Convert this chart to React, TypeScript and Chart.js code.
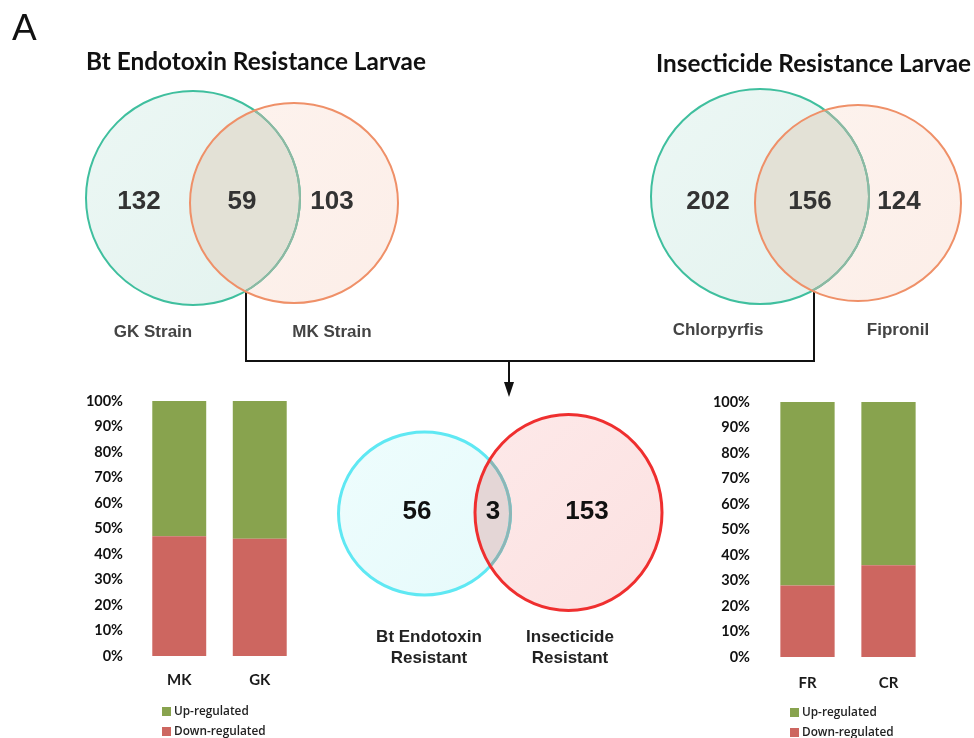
import React, { useEffect, useRef } from "react";
import { Chart, registerables } from "chart.js";

Chart.register(...registerables);

// ---------- DATA ----------
const btCategories = ["MK", "GK"];
const btDownPct = [47, 46];
const btUpPct = [53, 54];

const insCategories = ["FR", "CR"];
const insDownPct = [28, 36];
const insUpPct = [72, 64];

const yTickValues = [0, 10, 20, 30, 40, 50, 60, 70, 80, 90, 100];
const seriesNames = ["Up-regulated", "Down-regulated"];

const btVennTitle = "Bt Endotoxin Resistance Larvae";
const btVennSets = ["GK Strain", "MK Strain"];
const btVennCounts = [132, 59, 103];

const insVennTitle = "Insecticide Resistance Larvae";
const insVennSets = ["Chlorpyrfis", "Fipronil"];
const insVennCounts = [202, 156, 124];

const combVennSets = [["Bt Endotoxin", "Resistant"], ["Insecticide", "Resistant"]];
const combVennCounts = [56, 3, 153];

const panelLetter = "A";

// ---------- STYLE ----------
const GREEN = "#88a34e";
const RED = "#cd6660";
const W = 974;
const H = 738;

type Ell = { cx: number; cy: number; rx: number; ry: number };

const vennLayouts = [
  {
    a: { cx: 193, cy: 198, rx: 107, ry: 107 },
    b: { cx: 294, cy: 203, rx: 104, ry: 100 },
    lw: 2,
    aFill: ["#ecf7f4", "#e3f3ef"], bFill: ["#fdf3ee", "#fceee8"], mid: "#e3e1d6",
    aStroke: "#3fbf9e", aInner: "#8fb8a2", bStroke: "#ef9068",
    numColor: "#333333",
    numPos: [[139, 202], [242, 202], [332, 202]],
    setPos: [[[153, 332]], [[332, 332]]],
    setColor: "#444444",
  },
  {
    a: { cx: 760, cy: 196.5, rx: 109, ry: 107.5 },
    b: { cx: 858, cy: 203, rx: 103, ry: 98 },
    lw: 2,
    aFill: ["#ecf7f4", "#e3f3ef"], bFill: ["#fdf3ee", "#fceee8"], mid: "#e3e1d6",
    aStroke: "#3fbf9e", aInner: "#8fb8a2", bStroke: "#ef9068",
    numColor: "#333333",
    numPos: [[708, 202], [810, 202], [899, 202]],
    setPos: [[[718, 330]], [[898, 330]]],
    setColor: "#444444",
  },
  {
    a: { cx: 424.5, cy: 513.5, rx: 86, ry: 81.5 },
    b: { cx: 568.5, cy: 512.5, rx: 93.5, ry: 98 },
    lw: 3,
    aFill: ["#eefdfd", "#e6fafb"], bFill: ["#fde9e9", "#fce1e1"], mid: "#e4d6d6",
    aStroke: "#5fe8f3", aInner: "#8db6b6", bStroke: "#ef2f2f",
    numColor: "#111111",
    numPos: [[417, 512], [493, 512], [587, 512]],
    setPos: [[[429, 637], [429, 658]], [[570, 637], [570, 658]]],
    setColor: "#222222",
  },
];

const vennData = [
  { counts: btVennCounts, sets: btVennSets.map((s) => [s]) },
  { counts: insVennCounts, sets: insVennSets.map((s) => [s]) },
  { counts: combVennCounts, sets: combVennSets },
];

const titles = [
  { text: btVennTitle, cx: 256, cy: 62, w: 340 },
  { text: insVennTitle, cx: 813.5, cy: 64, w: 315 },
];

const vennPlugin = {
  id: "vennPlugin",
  afterDraw(chart: any) {
    const ctx: CanvasRenderingContext2D = chart.ctx;
    const xs = chart.scales.x;
    const ys = chart.scales.y;
    const sx = (v: number) => xs.getPixelForValue(v);
    const sy = (v: number) => ys.getPixelForValue(v);
    const path = (e: Ell) => {
      ctx.beginPath();
      const cx = sx(e.cx), cy = sy(e.cy);
      ctx.ellipse(cx, cy, Math.abs(sx(e.cx + e.rx) - cx), Math.abs(sy(e.cy + e.ry) - cy), 0, 0, Math.PI * 2);
    };
    const grad = (e: Ell, cols: string[]) => {
      const g = ctx.createLinearGradient(sx(e.cx - e.rx), sy(e.cy - e.ry), sx(e.cx + e.rx), sy(e.cy + e.ry));
      g.addColorStop(0, cols[0]);
      g.addColorStop(1, cols[1]);
      return g;
    };
    ctx.save();
    // panel letter
    ctx.fillStyle = "#111";
    ctx.font = "37px 'Liberation Sans', Arial, sans-serif";
    ctx.textAlign = "left";
    ctx.textBaseline = "alphabetic";
    ctx.fillText(panelLetter, sx(12), sy(40));

    // titles
    titles.forEach((t) => {
      ctx.font = "bold 22px Lato, sans-serif";
      const m = ctx.measureText(t.text).width;
      const size = (22 * t.w) / m;
      ctx.font = `bold ${size.toFixed(2)}px Lato, sans-serif`;
      ctx.textAlign = "center";
      ctx.textBaseline = "middle";
      ctx.fillStyle = "#111";
      ctx.fillText(t.text, sx(t.cx), sy(t.cy));
    });

    // connectors
    ctx.strokeStyle = "#111";
    ctx.lineWidth = 2;
    ctx.beginPath();
    ctx.moveTo(sx(246), sy(291));
    ctx.lineTo(sx(246), sy(361));
    ctx.lineTo(sx(814), sy(361));
    ctx.lineTo(sx(814), sy(291));
    ctx.moveTo(sx(509), sy(361));
    ctx.lineTo(sx(509), sy(386));
    ctx.stroke();
    ctx.fillStyle = "#111";
    ctx.beginPath();
    ctx.moveTo(sx(504), sy(382));
    ctx.lineTo(sx(514), sy(382));
    ctx.lineTo(sx(509), sy(397));
    ctx.closePath();
    ctx.fill();

    vennLayouts.forEach((L, i) => {
      const d = vennData[i];
      path(L.a); ctx.fillStyle = grad(L.a, L.aFill); ctx.fill();
      path(L.b); ctx.fillStyle = grad(L.b, L.bFill); ctx.fill();
      ctx.save(); path(L.a); ctx.clip(); path(L.b); ctx.fillStyle = L.mid; ctx.fill(); ctx.restore();
      ctx.lineWidth = L.lw;
      path(L.a); ctx.strokeStyle = L.aStroke; ctx.stroke();
      ctx.save(); path(L.b); ctx.clip(); path(L.a); ctx.strokeStyle = L.aInner; ctx.stroke(); ctx.restore();
      path(L.b); ctx.strokeStyle = L.bStroke; ctx.stroke();

      ctx.textAlign = "center";
      ctx.textBaseline = "middle";
      ctx.fillStyle = L.numColor;
      ctx.font = "bold 26px 'Liberation Sans', Arial, sans-serif";
      d.counts.forEach((c, k) => {
        const p = L.numPos[k];
        ctx.fillText(String(c), sx(p[0]), sy(p[1]));
      });
      ctx.fillStyle = L.setColor;
      ctx.font = "bold 17px 'Liberation Sans', Arial, sans-serif";
      d.sets.forEach((lines, k) => {
        lines.forEach((ln, j) => {
          const p = L.setPos[k][j];
          ctx.fillText(ln, sx(p[0]), sy(p[1]));
        });
      });
    });
    ctx.restore();
  },
};

function VennOverlay() {
  const ref = useRef<HTMLCanvasElement>(null);
  useEffect(() => {
    const chart = new Chart(ref.current!, {
      type: "scatter",
      data: { datasets: [] },
      options: {
        responsive: false,
        animation: false,
        layout: { padding: 0 },
        plugins: { legend: { display: false }, tooltip: { enabled: false } },
        scales: {
          x: { type: "linear", min: 0, max: W, display: false },
          y: { type: "linear", min: 0, max: H, reverse: true, display: false },
        },
      },
      plugins: [vennPlugin],
    } as any);
    return () => chart.destroy();
  }, []);
  return (
    <canvas
      ref={ref}
      width={W}
      height={H}
      style={{ position: "absolute", left: 0, top: 0, width: W, height: H, display: "block" }}
    />
  );
}

type BarProps = {
  categories: string[];
  down: number[];
  up: number[];
  left: number;
  top: number;
  width: number;
  yWidth: number;
  tickPad: number;
  xPad: number;
};

const X_AXIS_H = 44;

function StackedBars(p: BarProps) {
  const ref = useRef<HTMLCanvasElement>(null);
  const height = 10 + 255 + X_AXIS_H;
  useEffect(() => {
    const tickFont = { family: "Lato, sans-serif", weight: "bold" as const, size: 14.5 };
    const chart = new Chart(ref.current!, {
      type: "bar",
      data: {
        labels: p.categories,
        datasets: [
          { label: seriesNames[1], data: p.down, backgroundColor: RED, borderWidth: 0, categoryPercentage: 1, barPercentage: 0.67 },
          { label: seriesNames[0], data: p.up, backgroundColor: GREEN, borderWidth: 0, categoryPercentage: 1, barPercentage: 0.67 },
        ],
      },
      options: {
        responsive: false,
        animation: false,
        layout: { padding: { top: 10, left: 0, right: 0, bottom: 0 } },
        plugins: { legend: { display: false }, tooltip: { enabled: false } },
        scales: {
          x: {
            stacked: true,
            grid: { display: false, drawTicks: false },
            border: { display: false },
            ticks: { font: { ...tickFont, size: 15 }, color: "#1a1a1a", padding: p.xPad, maxRotation: 0 },
            afterFit: (s: any) => {
              s.height = X_AXIS_H;
              s.paddingLeft = 0;
              s.paddingRight = 0;
            },
          },
          y: {
            stacked: true,
            min: 0,
            max: 100,
            grid: { display: false, drawTicks: false },
            border: { display: false },
            afterBuildTicks: (s: any) => { s.ticks = yTickValues.map((v) => ({ value: v })); },
            ticks: { autoSkip: false, font: tickFont, color: "#111", padding: p.tickPad, callback: (v: any) => v + "%" },
            afterFit: (s: any) => {
              s.width = p.yWidth;
              s.paddingTop = 0;
              s.paddingBottom = 0;
            },
          },
        },
      },
    } as any);
    return () => chart.destroy();
  }, []);
  return (
    <canvas
      ref={ref}
      width={p.width}
      height={height}
      style={{ position: "absolute", left: p.left, top: p.top, width: p.width, height, display: "block" }}
    />
  );
}

function Legend({ left, top, textLeft }: { left: number; top: number; textLeft: number }) {
  const items = [
    { name: seriesNames[0], color: GREEN },
    { name: seriesNames[1], color: RED },
  ];
  return (
    <div style={{ position: "absolute", left: 0, top: 0 }}>
      {items.map((it, i) => (
        <div key={it.name}>
          <div
            style={{
              position: "absolute",
              left,
              top: top + i * 20 - 4.5,
              width: 9,
              height: 9,
              background: it.color,
            }}
          />
          <div
            style={{
              position: "absolute",
              left: textLeft,
              top: top + i * 20 - 9,
              height: 18,
              lineHeight: "18px",
              font: "600 11.8px 'Open Sans', sans-serif",
              color: "#222",
              whiteSpace: "nowrap",
            }}
          >
            {it.name}
          </div>
        </div>
      ))}
    </div>
  );
}

export default function App() {
  return (
    <div style={{ position: "absolute", left: 0, top: 0, width: W, height: H, background: "#fff", overflow: "hidden" }}>
      <VennOverlay />
      <StackedBars categories={btCategories} down={btDownPct} up={btUpPct} left={80} top={391} width={220} yWidth={59} tickPad={16} xPad={15} />
      <StackedBars categories={insCategories} down={insDownPct} up={insUpPct} left={701} top={392} width={228} yWidth={66} tickPad={17} xPad={17} />
      <Legend left={162} top={711} textLeft={174} />
      <Legend left={790} top={712} textLeft={802} />
    </div>
  );
}
